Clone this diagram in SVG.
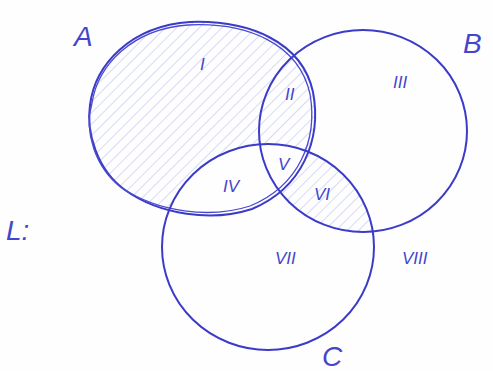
<svg xmlns="http://www.w3.org/2000/svg" width="493" height="371" viewBox="0 0 493 371">
<style>
.ol{fill:none;stroke:#3b3bc8;stroke-width:2;stroke-linecap:round}
.ol2{fill:none;stroke:#4a4ad0;stroke-width:1.3}
.lab{font-family:"Liberation Sans",Arial,sans-serif;font-style:italic;fill:#4545cc}
.big{font-size:28px}
.num{font-size:17px}
</style>
<defs>
<path id="pA" d="M190,22 C250,20 302,42 313,92 C322,140 302,188 252,209 C212,222 160,215 125,190 C97,170 86,132 90,105 C95,65 130,26 190,22 Z"/>
<ellipse id="pB" cx="363" cy="131" rx="104" ry="101"/>
<ellipse id="pC" cx="268" cy="247" rx="106" ry="103"/>
<pattern id="hatch" width="8" height="8" patternUnits="userSpaceOnUse" patternTransform="rotate(45)">
<line x1="0" y1="0" x2="0" y2="8" stroke="#a9b0e6" stroke-width="0.9"/>
</pattern>
<clipPath id="clipB"><use href="#pB"/></clipPath>
<mask id="mAnotC" maskUnits="userSpaceOnUse" x="0" y="0" width="493" height="371">
<use href="#pA" fill="#fff"/>
<use href="#pC" fill="#000"/>
</mask>
<mask id="mCnotA" maskUnits="userSpaceOnUse" x="0" y="0" width="493" height="371">
<use href="#pC" fill="#fff"/>
<use href="#pA" fill="#000"/>
</mask>
</defs>
<rect width="493" height="371" fill="#fefeff"/>
<g id="hatching">
<rect width="493" height="371" fill="url(#hatch)" mask="url(#mAnotC)"/>
<g clip-path="url(#clipB)"><rect width="493" height="371" fill="url(#hatch)" mask="url(#mCnotA)"/></g>
</g>
<g id="setA">
<use href="#pA" class="ol" stroke-width="2.4"/>
<path class="ol2" d="M188,25 C248,22 299,44 310,94 C318,140 299,186 250,206 C210,219 158,212 122,188 C94,167 84,130 92,103 C98,65 132,29 188,25 Z"/>
<text class="lab big" x="74" y="46">A</text>
</g>
<g id="setB">
<use href="#pB" class="ol"/>
<text class="lab big" x="463" y="53">B</text>
</g>
<g id="setC">
<use href="#pC" class="ol"/>
<text class="lab big" x="322" y="366">C</text>
</g>
<g id="labels">
<text class="lab big" x="6" y="240">L:</text>
<text class="lab num" x="200" y="70">I</text>
<text class="lab num" x="285" y="100">II</text>
<text class="lab num" x="393" y="88">III</text>
<text class="lab num" x="223" y="192">IV</text>
<text class="lab num" x="278" y="170">V</text>
<text class="lab num" x="314" y="200">VI</text>
<text class="lab num" x="275" y="264">VII</text>
<text class="lab num" x="402" y="264">VIII</text>
</g>
</svg>
